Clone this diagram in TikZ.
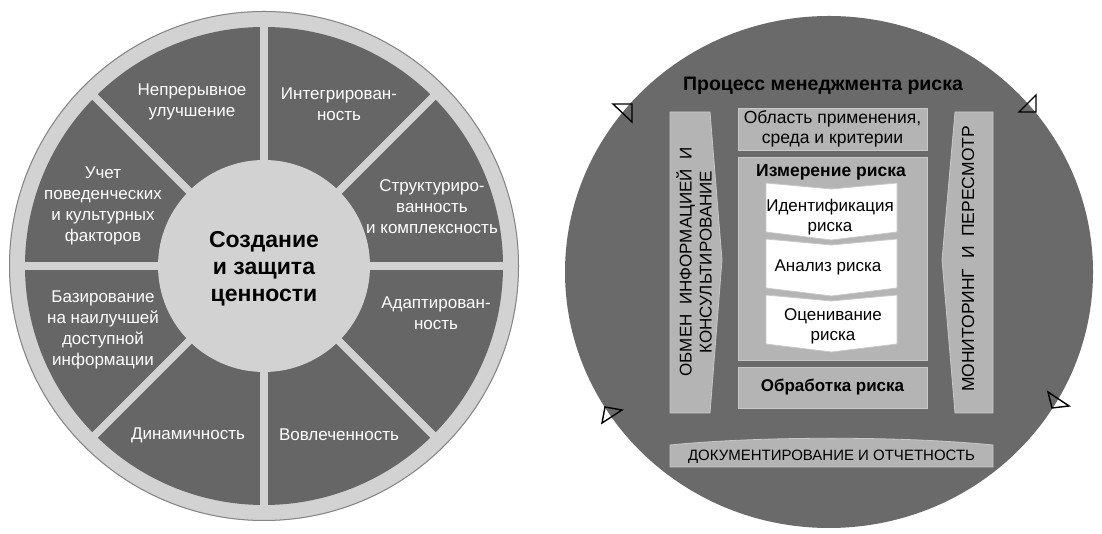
\documentclass[tikz,border=0pt]{standalone}
\usepackage{fontspec}
\setmainfont{Liberation Sans}
\usepackage{tikz}
\usetikzlibrary{positioning, calc}
\definecolor{wheeldark}{HTML}{666666}
\definecolor{wheellight}{HTML}{D2D2D2}
\definecolor{procdark}{HTML}{6A6A6A}
\definecolor{boxgrey}{HTML}{B4B4B4}
\definecolor{boxedge}{HTML}{C8C8C8}

\begin{document}
\begin{tikzpicture}[x=1pt, y=1pt,
      sector/.style={text=white, align=center, font=\fontsize{17}{21}\selectfont},
      hub/.style={text=black, align=center, font=\bfseries\fontsize{23}{27}\selectfont},
      gapline/.style={wheellight, line width=7.5pt},
      gbox/.style={fill=boxgrey, draw=boxedge, line width=0.8pt, align=center,
                   minimum width=189, inner sep=0pt, font=\fontsize{17.5}{20}\selectfont},
      chev/.style={fill=white, draw=boxedge, line width=0.8pt},
      banner/.style={fill=boxgrey, draw=boxedge, line width=0.8pt},
      btxt/.style={align=center, font=\fontsize{17}{20}\selectfont},
      rimmark/.style={draw=black, line width=1.4pt, line join=miter}
    ]
    \useasboundingbox (0,0) rectangle (1102,534);

    % left: principles wheel
    \coordinate (wc) at (264,268);
    \fill[wheellight] (wc) circle (255);
    \draw[wheeldark!80, line width=1pt] (wc) circle (254.5);
    \fill[wheeldark] (wc) circle (239);
    \foreach \a in {0,45,...,315}
      \draw[gapline] (wc) -- ++(\a:245);
    \fill[wheellight] (wc) circle (106);

    \node[hub] (value) at (264,265) {Создание\\и защита\\ценности};
    \node[sector] (impr)  at (192,432) {Непрерывное\\улучшение};
    \node[sector] (integ) at (339,430) {Интегрирован-\\ность};
    \node[sector] (struc) at (432,327) {Структуриро-\\ванность\\и комплексность};
    \node[sector] (adapt) at (436,221) {Адаптирован-\\ность};
    \node[sector] (invol) at (339,99)  {Вовлеченность};
    \node[sector] (dynam) at (188,99)  {Динамичность};
    \node[sector] (info)  at (103,204) {Базирование\\на наилучшей\\доступной\\информации};
    \node[sector] (human) at (103,328) {Учет\\поведенческих\\и культурных\\факторов};

    % right: risk management process
    \coordinate (pc) at (829,262);
    \fill[procdark] (pc) ellipse [x radius=264, y radius=256];

    \node[font=\bfseries\fontsize{19.5}{22}\selectfont] (proc) at (823,448)
          {Процесс менеджмента риска};

    \draw[banner] (670,422) -- (710,422) -- (722,274) -- (710,121) -- (670,121) -- cycle;
    \draw[banner] (955,422) -- (993,422) -- (993,121) -- (955,121) -- (942,274) -- cycle;
    \node[btxt, rotate=90] (comm) at (694,272)
          {ОБМЕН\ \ ИНФОРМАЦИЕЙ\ \ И\\КОНСУЛЬТИРОВАНИЕ};
    \node[btxt, rotate=90, font=\fontsize{17.5}{20}\selectfont] (monit) at (968,275)
          {МОНИТОРИНГ\ \ И\ \ ПЕРЕСМОТР};

    \node[gbox, minimum height=42] (scope) at (832.5,405)
          {Область применения,\\среда и критерии};
    \node[gbox, minimum height=203, anchor=north] (assess) at (832.5,377) {};
    \node[font=\bfseries\fontsize{17.5}{20}\selectfont] (asstitle) at (831,362)
          {Измерение риска};
    \foreach \t in {351,295,239}
      \draw[chev] (766,\t) -- (831.5,\t-6) -- (897,\t) -- (897,\t-49)
                  -- (831.5,\t-57) -- (766,\t-49) -- cycle;
    \node[btxt] (ident) at (830,317) {Идентификация\\риска};
    \node[btxt] (anal)  at (828,267) {Анализ риска};
    \node[btxt] (eval)  at (833,208) {Оценивание\\риска};
    \node[gbox, minimum height=41, font=\bfseries\fontsize{17}{20}\selectfont]
          (treat) at (832.5,146.5) {Обработка риска};

    \draw[banner] (670,67) -- (670,89) .. controls (760,98) and (903,98) .. (993,89)
                  -- (993,67) -- cycle;
    \node[btxt, font=\fontsize{15}{18}\selectfont] (doc) at (831.5,77)
          {ДОКУМЕНТИРОВАНИЕ И ОТЧЕТНОСТЬ};

    % flow marks on the rim
    \draw[rimmark] (613,430) -- (632,430) -- (632,412) -- cycle;
    \draw[rimmark] (1019,422) -- (1036,439) -- (1036,422) -- cycle;
    \draw[rimmark] (605,127) -- (622,124) -- (602,111) -- cycle;
    \draw[rimmark] (1048,142) -- (1069,128) -- (1052,126) -- cycle;
  \end{tikzpicture}
\end{document}
